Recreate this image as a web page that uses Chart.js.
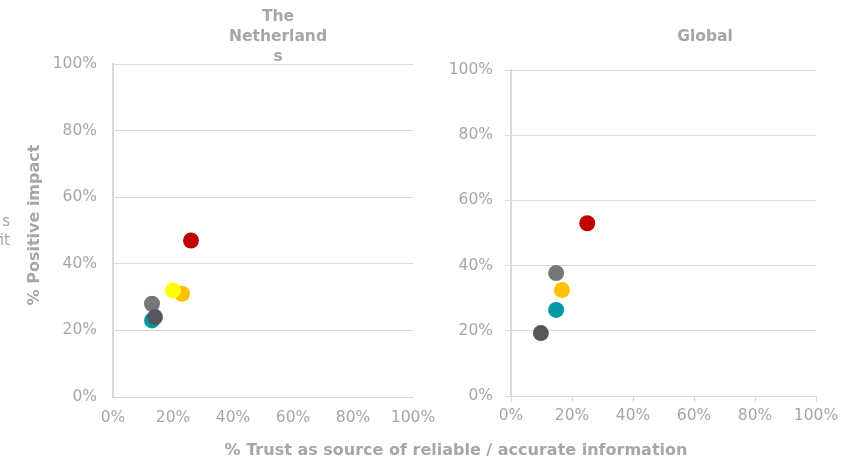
<!DOCTYPE html>
<html>
<head>
<meta charset="utf-8">
<script src="https://cdn.jsdelivr.net/npm/chart.js@4.4.1/dist/chart.umd.min.js"></script>
<style>
  body { margin: 0; background: #fff; }
  #wrap { position: relative; width: 856px; height: 458px; overflow: hidden; font-family: "DejaVu Sans", Verdana, sans-serif; }
  canvas { position: absolute; top: 0; }
  .lbl { position: absolute; color: #a6a6a6; font-size: 14px; white-space: nowrap; }
  .b { font-weight: bold; }
  .t { font-size: 15.5px; }
  .ax { font-size: 16px; }
  .line { display: block; }
</style>
</head>
<body>
<div id="wrap">
  <canvas id="nl" width="450" height="458" style="left:0"></canvas>
  <canvas id="gl" width="426" height="458" style="left:430px"></canvas>
  <div class="lbl b t" style="left:218px;top:6px;width:120px;text-align:center;line-height:20px"><span class="line">The </span><span class="line">Netherland </span><span class="line">s</span></div>
  <div class="lbl b t" style="left:645px;top:27px;width:120px;text-align:center">Global</div>
  <div class="lbl b ax" style="left:33px;top:225px;transform:translate(-50%,-50%) rotate(-90deg)">% Positive impact</div>
  <div class="lbl b ax" style="left:456px;top:440px;transform:translateX(-50%)">% Trust as source of reliable / accurate information</div>
  <div class="lbl" style="right:846px;top:212px;font-size:15px">s</div>
  <div class="lbl" style="right:846px;top:231px;font-size:15px">fit</div>
</div>
<script>
// first dataset is drawn on top
var seriesNames  = ['Dark', 'Teal', 'Gray', 'Yellow', 'Orange', 'Red'];
var seriesColors = ['#53565a', '#0097a7', '#75787b', '#ffff00', '#ffc000', '#c00000'];

// values in %: [trust, positive impact]
var nlDark   = [14, 24];
var nlTeal   = [13, 23];
var nlGray   = [13, 28];
var nlYellow = [20, 32];
var nlOrange = [23, 31];
var nlRed    = [26, 47];

var glDark   = [9.8, 19.3];
var glTeal   = [14.8, 26.4];
var glGray   = [14.8, 37.7];
var glYellow = [14.8, 37.7];
var glOrange = [16.7, 32.5];
var glRed    = [25, 53];

var axisTicks = [0, 20, 40, 60, 80, 100];

var nlData = [nlDark, nlTeal, nlGray, nlYellow, nlOrange, nlRed];
var glData = [glDark, glTeal, glGray, glYellow, glOrange, glRed];

function makeSets(list) {
    return list.map(function(p, i) {
        return {
            label: seriesNames[i],
            data: [{ x: p[0], y: p[1] }],
            backgroundColor: seriesColors[i],
            borderColor: seriesColors[i],
            borderWidth: 0,
            pointRadius: 8,
            pointHoverRadius: 8
        };
    });
}

function build(id, data, opt) {
    var tickFont = { family: '"DejaVu Sans", Verdana, sans-serif', size: 15.5 };
    return new Chart(document.getElementById(id), {
        type: 'scatter',
        data: { datasets: makeSets(data) },
        options: {
            responsive: false, animation: false,
            layout: { autoPadding: false, padding: { top: opt.top, left: 0, right: opt.right, bottom: 0 } },
            plugins: { legend: { display: false }, tooltip: { enabled: false } },
            scales: {
                x: {
                    min: 0, max: 100,
                    afterBuildTicks: function(s) { s.ticks = axisTicks.map(function(v) { return { value: v }; }); },
                    afterFit: function(s) { s.height = opt.xh; s.paddingLeft = 0; s.paddingRight = 0; },
                    ticks: { color: '#a6a6a6', font: tickFont, padding: opt.xpad, maxRotation: 0, callback: function(v) { return v + '%'; } },
                    grid: { display: true, drawOnChartArea: false, drawTicks: opt.ticks, tickLength: 6, color: '#d9d9d9' },
                    border: { color: '#d9d9d9', width: 1 }
                },
                y: {
                    min: 0, max: 100,
                    afterBuildTicks: function(s) { s.ticks = axisTicks.map(function(v) { return { value: v }; }); },
                    afterFit: function(s) { s.width = opt.yw; s.paddingTop = 0; s.paddingBottom = 0; },
                    ticks: { color: '#a6a6a6', font: tickFont, padding: opt.ypad, callback: function(v) { return v + '%'; } },
                    grid: { color: '#d9d9d9', drawTicks: opt.ticks, tickLength: 6 },
                    border: { color: '#d9d9d9', width: 2 }
                }
            }
        }
    });
}

build('nl', nlData, { top: 64, right: 37, xh: 61, yw: 113, ticks: false, xpad: 12, ypad: 16 });
build('gl', glData, { top: 70, right: 40, xh: 62, yw: 81, ticks: true, xpad: 5, ypad: 12 });
</script>
</body>
</html>
